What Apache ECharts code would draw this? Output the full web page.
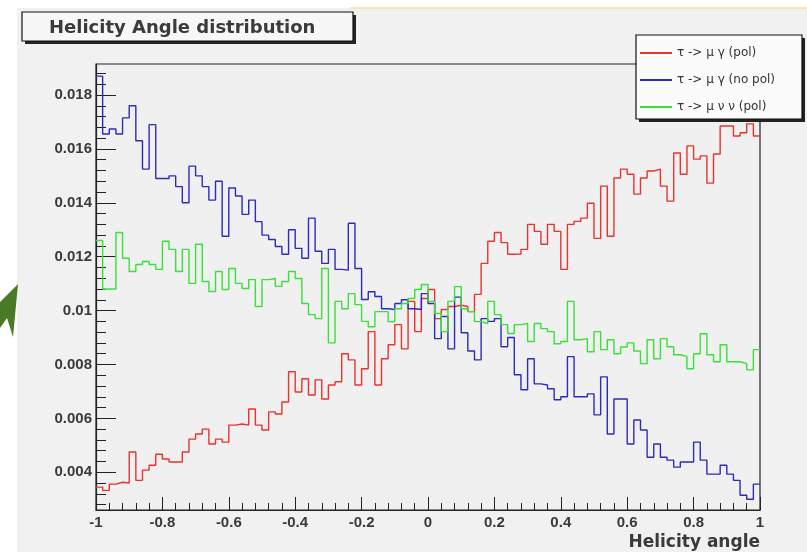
<!DOCTYPE html>
<html>
<head>
<meta charset="utf-8">
<title>Helicity Angle distribution</title>
<script src="https://cdn.jsdelivr.net/npm/echarts@6/dist/echarts.min.js"></script>
<style>
    html, body { margin: 0; padding: 0; background: #ffffff; }
    #chart { width: 807px; height: 558px; }
</style>
</head>
<body>
<div id="chart"></div>
<script>
// 100 bins between -1 and 1, values are bin contents
var binCount = 100;
var xMin = -1, xMax = 1;

var seriesNames = ['τ -> μ γ (pol)', 'τ -> μ γ (no pol)', 'τ -> μ ν ν (pol)'];

var redPol = [
    0.00345, 0.00333, 0.00356, 0.00363, 0.0036, 0.00475, 0.0037, 0.00408, 0.00426, 0.00467,
    0.00449, 0.00438, 0.00438, 0.00475, 0.00523, 0.00542, 0.0056, 0.00505, 0.00523, 0.00512,
    0.00575, 0.00579, 0.00575, 0.00635, 0.00575, 0.00557, 0.00624, 0.00616, 0.00661, 0.00773,
    0.00698, 0.00747, 0.00687, 0.00743, 0.00672, 0.00724, 0.00736, 0.0084, 0.00817, 0.00724,
    0.00784, 0.00922, 0.00724, 0.00821, 0.00873, 0.00948, 0.00858, 0.01034, 0.00922, 0.01045,
    0.01078, 0.0097, 0.01004, 0.01015, 0.0102, 0.01015, 0.00996, 0.0106, 0.01175, 0.01257,
    0.0129, 0.01252, 0.01209, 0.0121, 0.01227, 0.0132, 0.01294, 0.01246, 0.0132, 0.01294,
    0.01153, 0.0132, 0.01331, 0.01343, 0.01398, 0.01268, 0.01462, 0.01276, 0.01492, 0.01525,
    0.01506, 0.01432, 0.01492, 0.01518, 0.01525, 0.01462, 0.01406, 0.01585, 0.01506, 0.01611,
    0.01562, 0.01574, 0.01473, 0.01581, 0.01685, 0.01685, 0.01648, 0.0166, 0.01693, 0.01648
];

var blueNoPol = [
    0.0187, 0.01655, 0.01674, 0.01655, 0.01715, 0.0176, 0.0163, 0.01525, 0.0169, 0.0149,
    0.0149, 0.015, 0.0146, 0.014, 0.01536, 0.015, 0.0146, 0.0141, 0.0148, 0.01276,
    0.01455, 0.01425, 0.01357, 0.0141, 0.0133, 0.0128, 0.01264, 0.01238, 0.01209, 0.013,
    0.01231, 0.01194, 0.01343, 0.0122, 0.01175, 0.01227, 0.01153, 0.0115, 0.01324, 0.01156,
    0.01041, 0.0107, 0.01052, 0.01007, 0.01004, 0.01026, 0.0104, 0.01007, 0.01004, 0.01063,
    0.01026, 0.00896, 0.00978, 0.00858, 0.0105, 0.00918, 0.0085, 0.00817, 0.0097, 0.0096,
    0.0097, 0.00866, 0.009, 0.00762, 0.00706, 0.00821, 0.00728, 0.00724, 0.0071, 0.00669,
    0.0068, 0.00829, 0.0068, 0.0068, 0.00691, 0.00613, 0.00754, 0.00542, 0.00672, 0.00672,
    0.00505, 0.00594, 0.00557, 0.00456, 0.00505, 0.00456, 0.00445, 0.00419, 0.00438, 0.00438,
    0.00512, 0.00445, 0.00393, 0.00393, 0.00426, 0.00393, 0.0037, 0.00315, 0.003, 0.00356
];

var greenNuNu = [
    0.0126, 0.0108, 0.0108, 0.0129, 0.01194, 0.01145, 0.01171, 0.01182, 0.01171, 0.01153,
    0.01257, 0.01227, 0.01145, 0.01227, 0.01101, 0.01246, 0.01108, 0.01071, 0.01145, 0.01078,
    0.01156, 0.01101, 0.01082, 0.01115, 0.01015, 0.01115, 0.01119, 0.0109, 0.01108, 0.01145,
    0.01119, 0.01026, 0.00985, 0.0097, 0.01156, 0.0088, 0.01034, 0.01007, 0.01063, 0.01022,
    0.0096, 0.0094, 0.00996, 0.00996, 0.00959, 0.01007, 0.01026, 0.01045, 0.01078, 0.01097,
    0.01034, 0.00989, 0.00922, 0.01034, 0.01089, 0.01007, 0.00996, 0.00959, 0.00952, 0.01034,
    0.00985, 0.00948, 0.00915, 0.00948, 0.00952, 0.00885, 0.00952, 0.00933, 0.00922, 0.00877,
    0.00885, 0.01034, 0.00892, 0.00896, 0.00847, 0.00922, 0.00855, 0.00892, 0.0084, 0.00865,
    0.0088, 0.0085, 0.00803, 0.00892, 0.00821, 0.00896, 0.00866, 0.00836, 0.00829, 0.00784,
    0.0084, 0.00914, 0.00836, 0.0081, 0.00873, 0.0081, 0.0081, 0.00803, 0.0078, 0.00855
];

var yMajorTicks = [0.004, 0.006, 0.008, 0.01, 0.012, 0.014, 0.016, 0.018];
var yMin = 0.0026, yMax = 0.01915;

// minor ticks every 0.0004 on the y axis
var yMinorTicks = [];
for (var t = 28; t <= 190; t += 4) {
    yMinorTicks.push(t / 10000);
}

var binWidth = (xMax - xMin) / binCount;

// step line through bin low edges, closed at the upper edge of the last bin
function histPoints(values) {
    var pts = values.map(function (v, i) {
        return [xMin + i * binWidth, v];
    });
    pts.push([xMax, values[values.length - 1]]);
    return pts;
}

var font = '"Liberation Sans", Arial, Helvetica, sans-serif';
var wideFont = '"DejaVu Sans", Verdana, sans-serif';
var colors = ['#e8332e', '#2b2bbf', '#38e038'];

var chart = echarts.init(document.getElementById('chart'));

var option = {
    backgroundColor: '#ffffff',
    animation: false,
    title: {
        text: 'Helicity Angle distribution',
        left: 44,
        top: 14,
        textStyle: {
            fontFamily: wideFont,
            fontSize: 18,
            fontWeight: 'bold',
            color: '#3a3a3a'
        }
    },
    legend: {
        orient: 'vertical',
        left: 635,
        top: 42,
        itemWidth: 32,
        itemHeight: 2,
        itemGap: 15,
        textStyle: {
            fontFamily: wideFont,
            fontSize: 12,
            color: '#333'
        },
        data: seriesNames.map(function (n) { return { name: n, icon: 'rect' }; })
    },
    graphic: [
        // pad background
        { type: 'rect', shape: { x: 17, y: 8, width: 790, height: 544 }, style: { fill: '#f1f1f1' }, z: -10 },
        { type: 'line', shape: { x1: 350, y1: 8, x2: 807, y2: 8 }, style: { stroke: '#f3e9b0', lineWidth: 2 }, z: -9 },
        // arrow on the slide, left edge
        { type: 'polygon', shape: { points: [[18, 284], [13, 337], [7, 318], [0, 328], [0, 302], [3, 299]] }, style: { fill: '#4b7a26' }, z: -8 },
        // title box
        { type: 'rect', shape: { x: 25, y: 15, width: 331, height: 29 }, style: { fill: '#222' }, z: 4 },
        { type: 'rect', shape: { x: 22, y: 12, width: 331, height: 29 }, style: { fill: '#f7f7f7', stroke: '#111', lineWidth: 1.2 }, z: 5 },
        // legend box
        { type: 'rect', shape: { x: 639, y: 38, width: 166, height: 84 }, style: { fill: '#222' }, z: 3 },
        { type: 'rect', shape: { x: 636, y: 35, width: 166, height: 84 }, style: { fill: '#fbfbfb', stroke: '#111', lineWidth: 1.2 }, z: 3 }
    ],
    grid: {
        left: 96,
        right: 47,
        top: 64,
        bottom: 48,
        show: true,
        backgroundColor: '#f0f0f0',
        borderColor: '#222',
        borderWidth: 1.2
    },
    xAxis: {
        type: 'value',
        min: xMin,
        max: xMax,
        interval: 0.2,
        name: 'Helicity angle',
        nameLocation: 'end',
        nameGap: 0,
        nameTextStyle: {
            fontFamily: wideFont,
            fontSize: 17,
            fontWeight: 'bold',
            color: '#3a3a3a',
            align: 'right',
            verticalAlign: 'top',
            padding: [24, 0, 0, 0]
        },
        axisLine: { onZero: false, lineStyle: { color: '#222', width: 1.2 } },
        axisTick: { inside: true, length: 13, lineStyle: { color: '#222' } },
        minorTick: { show: true, splitNumber: 5, length: 7, lineStyle: { color: '#222' } },
        splitLine: { show: false },
        axisLabel: {
            margin: 5,
            fontFamily: font,
            fontSize: 15,
            fontWeight: 'bold',
            color: '#3a3a3a',
            formatter: function (v) { return String(Math.round(v * 10) / 10); }
        }
    },
    yAxis: [
        {
            type: 'value',
            min: yMin,
            max: yMax,
            axisLine: { show: true, onZero: false, lineStyle: { color: '#222', width: 1.2 } },
            axisTick: { show: true, inside: true, length: 20, customValues: yMajorTicks, lineStyle: { color: '#222' } },
            splitLine: { show: false },
            axisLabel: {
                margin: 4,
                customValues: yMajorTicks,
                fontFamily: font,
                fontSize: 15,
                fontWeight: 'bold',
                color: '#3a3a3a',
                formatter: function (v) { return String(parseFloat(v.toFixed(3))); }
            }
        },
        {
            type: 'value',
            min: yMin,
            max: yMax,
            position: 'left',
            offset: 0,
            axisLine: { show: false, onZero: false },
            axisTick: { show: true, inside: true, length: 10, customValues: yMinorTicks, lineStyle: { color: '#222' } },
            splitLine: { show: false },
            axisLabel: { show: false }
        }
    ],
    series: seriesNames.map(function (name, k) {
        return {
            name: name,
            type: 'line',
            step: 'end',
            symbol: 'none',
            lineStyle: { color: colors[k], width: 1.4 },
            itemStyle: { color: colors[k] },
            data: histPoints([redPol, blueNoPol, greenNuNu][k])
        };
    })
};

chart.setOption(option);
</script>
</body>
</html>
